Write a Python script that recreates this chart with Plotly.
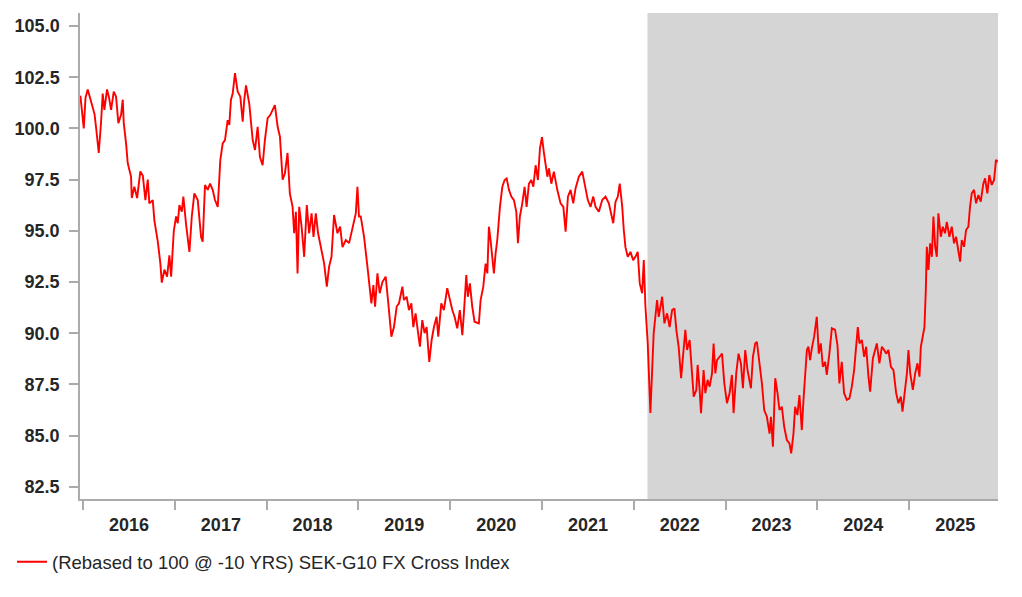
import pandas as pd
import plotly.graph_objects as go

# Time points as decimal years and index values
t_years = [
    2015.971, 2015.984, 2016.008, 2016.027, 2016.051, 2016.076, 2016.106, 2016.125, 2016.141, 2016.171,
    2016.196, 2016.214, 2016.232, 2016.261, 2016.283, 2016.305, 2016.334, 2016.359, 2016.384, 2016.413,
    2016.432, 2016.443, 2016.468, 2016.486, 2016.522, 2016.530, 2016.558, 2016.588, 2016.623, 2016.650,
    2016.678, 2016.704, 2016.721, 2016.758, 2016.776, 2016.813, 2016.841, 2016.856, 2016.885, 2016.914,
    2016.939, 2016.958, 2016.987, 2017.012, 2017.030, 2017.048, 2017.074, 2017.091, 2017.121, 2017.157,
    2017.183, 2017.211, 2017.248, 2017.284, 2017.302, 2017.327, 2017.357, 2017.382, 2017.411, 2017.436,
    2017.466, 2017.494, 2017.520, 2017.545, 2017.574, 2017.592, 2017.610, 2017.629, 2017.654, 2017.683,
    2017.712, 2017.738, 2017.755, 2017.774, 2017.810, 2017.847, 2017.872, 2017.901, 2017.926, 2017.955,
    2017.980, 2018.010, 2018.038, 2018.064, 2018.089, 2018.119, 2018.144, 2018.173, 2018.198, 2018.227,
    2018.252, 2018.282, 2018.299, 2018.318, 2018.336, 2018.354, 2018.380, 2018.408, 2018.437, 2018.462,
    2018.489, 2018.510, 2018.535, 2018.560, 2018.590, 2018.626, 2018.655, 2018.680, 2018.706, 2018.734,
    2018.771, 2018.800, 2018.826, 2018.862, 2018.898, 2018.935, 2018.971, 2018.989, 2019.006,
    2019.025, 2019.061, 2019.098, 2019.115, 2019.141, 2019.163, 2019.181, 2019.207, 2019.232, 2019.261,
    2019.297, 2019.322, 2019.344, 2019.359, 2019.387, 2019.417, 2019.442, 2019.479, 2019.496, 2019.525,
    2019.551, 2019.577, 2019.598, 2019.623, 2019.642, 2019.670, 2019.696, 2019.721, 2019.743, 2019.772,
    2019.798, 2019.823, 2019.852, 2019.870, 2019.903, 2019.931, 2019.968, 2019.997, 2020.023, 2020.048,
    2020.077, 2020.105, 2020.132, 2020.149, 2020.175, 2020.192, 2020.214, 2020.240, 2020.265, 2020.312,
    2020.331, 2020.360, 2020.385, 2020.404, 2020.421, 2020.439, 2020.458, 2020.475, 2020.494, 2020.512,
    2020.541, 2020.567, 2020.592, 2020.614, 2020.639, 2020.665, 2020.693, 2020.719, 2020.737, 2020.758,
    2020.784, 2020.809, 2020.831, 2020.856, 2020.882, 2020.904, 2020.929, 2020.954, 2020.976, 2020.998,
    2021.020, 2021.057, 2021.074, 2021.100, 2021.128, 2021.165, 2021.201, 2021.231, 2021.256, 2021.281,
    2021.310, 2021.339, 2021.364, 2021.400, 2021.437, 2021.473, 2021.498, 2021.528, 2021.557, 2021.582,
    2021.618, 2021.655, 2021.691, 2021.727, 2021.745, 2021.775, 2021.800, 2021.825, 2021.846, 2021.873,
    2021.890, 2021.908, 2021.933, 2021.963, 2021.992, 2022.017, 2022.042, 2022.064, 2022.090, 2022.108,
    2022.126, 2022.151, 2022.180, 2022.199, 2022.216,
    2022.253, 2022.271, 2022.308, 2022.333, 2022.362, 2022.390, 2022.417, 2022.442, 2022.463, 2022.488,
    2022.515, 2022.536, 2022.561, 2022.580, 2022.608, 2022.634, 2022.652, 2022.681, 2022.695, 2022.717,
    2022.732, 2022.760, 2022.779, 2022.804, 2022.826, 2022.852, 2022.869, 2022.888, 2022.906, 2022.935,
    2022.961,
    2022.986, 2023.015, 2023.043, 2023.069, 2023.087, 2023.116, 2023.141, 2023.167, 2023.189, 2023.214,
    2023.239, 2023.276, 2023.298, 2023.323, 2023.341, 2023.370, 2023.396, 2023.421, 2023.450, 2023.479,
    2023.494, 2023.516, 2023.541, 2023.566, 2023.587, 2023.613, 2023.639, 2023.668, 2023.696, 2023.715,
    2023.740, 2023.758, 2023.783, 2023.805, 2023.831, 2023.849, 2023.867, 2023.886, 2023.903, 2023.921,
    2023.940, 2023.965, 2023.994, 2024.016, 2024.038, 2024.060, 2024.085, 2024.103, 2024.131, 2024.158,
    2024.193, 2024.219, 2024.240, 2024.266, 2024.291, 2024.321, 2024.349, 2024.375, 2024.400, 2024.422,
    2024.440, 2024.458, 2024.484, 2024.509, 2024.531, 2024.556, 2024.574, 2024.604, 2024.629, 2024.647,
    2024.675, 2024.702, 2024.727,
    2024.748, 2024.773, 2024.800, 2024.828, 2024.857, 2024.882, 2024.908, 2024.926, 2024.948, 2024.974,
    2024.991, 2025.010, 2025.039, 2025.064, 2025.089, 2025.111, 2025.126, 2025.148, 2025.165, 2025.180,
    2025.191, 2025.209, 2025.227, 2025.246, 2025.263, 2025.282, 2025.300, 2025.317, 2025.344, 2025.365,
    2025.390, 2025.409, 2025.437, 2025.463, 2025.488, 2025.510, 2025.535, 2025.554, 2025.572, 2025.597,
    2025.619, 2025.644, 2025.662, 2025.681, 2025.706, 2025.728, 2025.753, 2025.779, 2025.807, 2025.826,
    2025.851, 2025.872, 2025.899, 2025.924, 2025.945, 2025.964,
]

index_values = [
    101.6, 101.0, 100.0, 101.5, 101.9, 101.5, 101.06, 100.7, 100.08, 98.8,
    100.3, 101.7, 100.9, 101.9, 101.5, 100.9, 101.8, 101.55, 100.26, 100.65,
    101.4, 100.26, 99.27, 98.3, 97.64, 96.6, 97.15, 96.6, 97.9, 97.7,
    96.5, 97.5, 96.34, 96.5, 95.5, 94.47, 93.4, 92.47, 93.1, 92.76,
    93.8, 92.76, 95.0, 95.7, 95.37, 96.26, 95.93, 96.67, 95.3, 93.97,
    95.7, 96.83, 96.5, 94.7, 94.47, 97.24, 97.0, 97.3, 97.0, 96.5,
    96.17, 98.45, 99.27, 99.43, 100.4, 100.17, 101.4, 101.7, 102.7, 101.8,
    101.55, 100.33, 101.4, 102.1, 101.2, 99.43, 98.95, 100.08, 98.6, 98.2,
    99.43, 100.5, 100.65, 100.9, 101.14, 100.08, 99.6, 97.5, 97.8, 98.8,
    96.83, 96.17, 94.88, 95.93, 92.92, 96.17, 95.2, 93.73, 96.26, 94.88,
    95.85, 94.7, 95.85, 94.88, 94.2, 93.4, 92.27, 93.25, 93.73, 95.77,
    94.88, 95.2, 94.2, 94.55, 94.4, 95.2, 95.85, 97.15, 95.7,
    95.7, 94.7, 93.25, 92.6, 91.46, 92.35, 91.3, 92.92, 91.95, 92.5,
    92.76, 91.62, 90.64, 89.83, 90.3, 91.3, 91.46, 92.27, 91.62, 91.78,
    91.13, 91.46, 90.3, 90.97, 90.3, 89.34, 90.64, 90.0, 90.3, 88.6,
    89.67, 90.3, 90.8, 89.83, 91.46, 91.13, 92.2, 91.62, 91.13, 90.8,
    90.24, 91.13, 89.9, 90.97, 92.84, 91.78, 92.43, 91.3, 90.56, 90.48,
    91.62, 92.27, 93.4, 92.92, 95.2, 94.55, 93.73, 92.92, 93.9, 94.55,
    96.17, 97.15, 97.48, 97.56, 97.0, 96.67, 96.5, 95.93, 94.4, 95.7,
    96.34, 97.15, 96.17, 97.3, 97.48, 97.15, 98.2, 97.48, 99.03, 99.57,
    98.78, 97.64, 98.05, 97.3, 97.89, 97.0, 96.34, 96.17, 94.96, 96.67,
    97.0, 96.34, 97.07, 97.64, 97.89, 97.0, 96.5, 96.17, 96.67, 96.17,
    95.93, 96.5, 96.67, 96.34, 96.0, 95.37, 96.42, 96.67, 97.3, 96.17,
    95.04, 94.2, 93.73, 93.97, 93.57, 93.73, 93.97, 92.43, 91.95, 93.57,
    91.3, 89.5, 86.1, 88.7, 90.0,
    91.62, 90.8, 91.78, 90.48, 90.97, 90.3, 91.13, 91.21, 90.16, 89.34,
    87.8, 89.0, 90.16, 89.18, 89.67, 88.04, 86.9, 87.23, 88.45, 87.23,
    86.1, 88.2, 87.07, 87.72, 87.39, 88.04, 89.5, 88.04, 88.69, 88.85,
    89.0,
    87.55, 86.58, 87.07, 87.96, 86.1, 88.04, 89.0, 88.53, 87.31, 89.18,
    88.2, 87.31, 88.85, 89.5, 89.58, 88.53, 87.55, 86.25, 85.92, 85.1,
    85.92, 84.46, 87.8, 87.07, 86.25, 86.41, 85.43, 84.78, 84.62, 84.13,
    85.1, 86.41, 86.0, 86.98, 85.27, 86.74, 87.88, 89.18, 89.34, 88.69,
    89.26, 89.83, 90.8, 89.0, 89.5, 88.36, 88.6, 87.96, 89.0, 90.24,
    90.16, 89.42, 87.55, 88.6, 87.07, 86.74, 86.82, 87.39, 88.2, 89.34,
    90.3, 89.5, 89.67, 88.85, 89.34, 87.88, 87.15, 88.77, 89.18, 89.5,
    88.53, 89.34, 89.18,
    89.0, 89.18, 88.36, 88.2, 87.07, 86.58, 86.9, 86.17, 87.07, 88.04,
    89.18, 88.04, 87.23, 88.04, 88.53, 87.88, 89.34, 89.83, 90.3, 92.1,
    94.22, 93.09, 94.39, 93.73, 95.7, 94.22, 93.73, 95.85, 94.71, 95.2,
    94.88, 95.44, 94.71, 95.2, 94.39, 94.71, 93.9, 93.49, 94.55, 94.22,
    95.04, 95.2, 96.17, 96.83, 97.0, 96.34, 96.75, 96.42, 97.3, 97.56,
    96.83, 97.72, 97.24, 97.48, 98.46, 98.37,
]

series_name = "(Rebased to 100 @ -10 YRS) SEK-G10 FX Cross Index"
shade_start = "2022-02-24"
x_range_years = [2015.967, 2025.967]
y_range = [81.904, 105.635]


def dec_to_date(t):
    y = int(t)
    start = pd.Timestamp(year=y, month=1, day=1)
    end = pd.Timestamp(year=y + 1, month=1, day=1)
    return start + (end - start) * (t - y)


dates = [dec_to_date(t) for t in t_years]
x_range = [dec_to_date(t) for t in x_range_years]

FONT = "Liberation Sans, Arial, sans-serif"
TXT = "#262626"
AX = "#ababab"

fig = go.Figure()
fig.add_trace(go.Scatter(
    x=dates, y=index_values, mode="lines", name=series_name,
    line=dict(color="#ff0000", width=1.9),
))

fig.add_shape(
    type="rect", xref="x", yref="paper",
    x0=shade_start, x1=x_range[1], y0=0, y1=1,
    fillcolor="#d5d5d5", line=dict(width=0), layer="below",
)

# page body has an 8px margin, so the figure is sized/offset to compensate
fig.update_layout(
    width=1006, height=581,
    margin=dict(l=71, r=16, t=5, b=90),
    plot_bgcolor="white", paper_bgcolor="white",
    showlegend=True,
    legend=dict(
        orientation="h", x=-0.0729, y=-0.13, xanchor="left", yanchor="middle",
        font=dict(family=FONT, size=18.5, color=TXT),
        bgcolor="rgba(0,0,0,0)",
    ),
)

fig.update_xaxes(
    type="date", range=x_range, automargin=False,
    tick0="2016-01-01", dtick="M12", ticklabelmode="period", tickformat="%Y",
    ticks="outside", ticklen=9, tickwidth=1.5, tickcolor=AX,
    showline=True, linecolor=AX, linewidth=1.5,
    showgrid=False, zeroline=False,
    tickfont=dict(family=FONT, size=18, color=TXT, weight="bold"),
)
fig.update_yaxes(
    range=y_range, tick0=0, dtick=2.5, tickformat=".1f", automargin=False,
    ticks="outside", ticklen=9, tickwidth=1.5, tickcolor=AX,
    showline=True, linecolor=AX, linewidth=1.5,
    showgrid=False, zeroline=False,
    tickfont=dict(family=FONT, size=18, color=TXT, weight="bold"),
    ticklabelstandoff=6,
)

fig.write_html("out.html")
